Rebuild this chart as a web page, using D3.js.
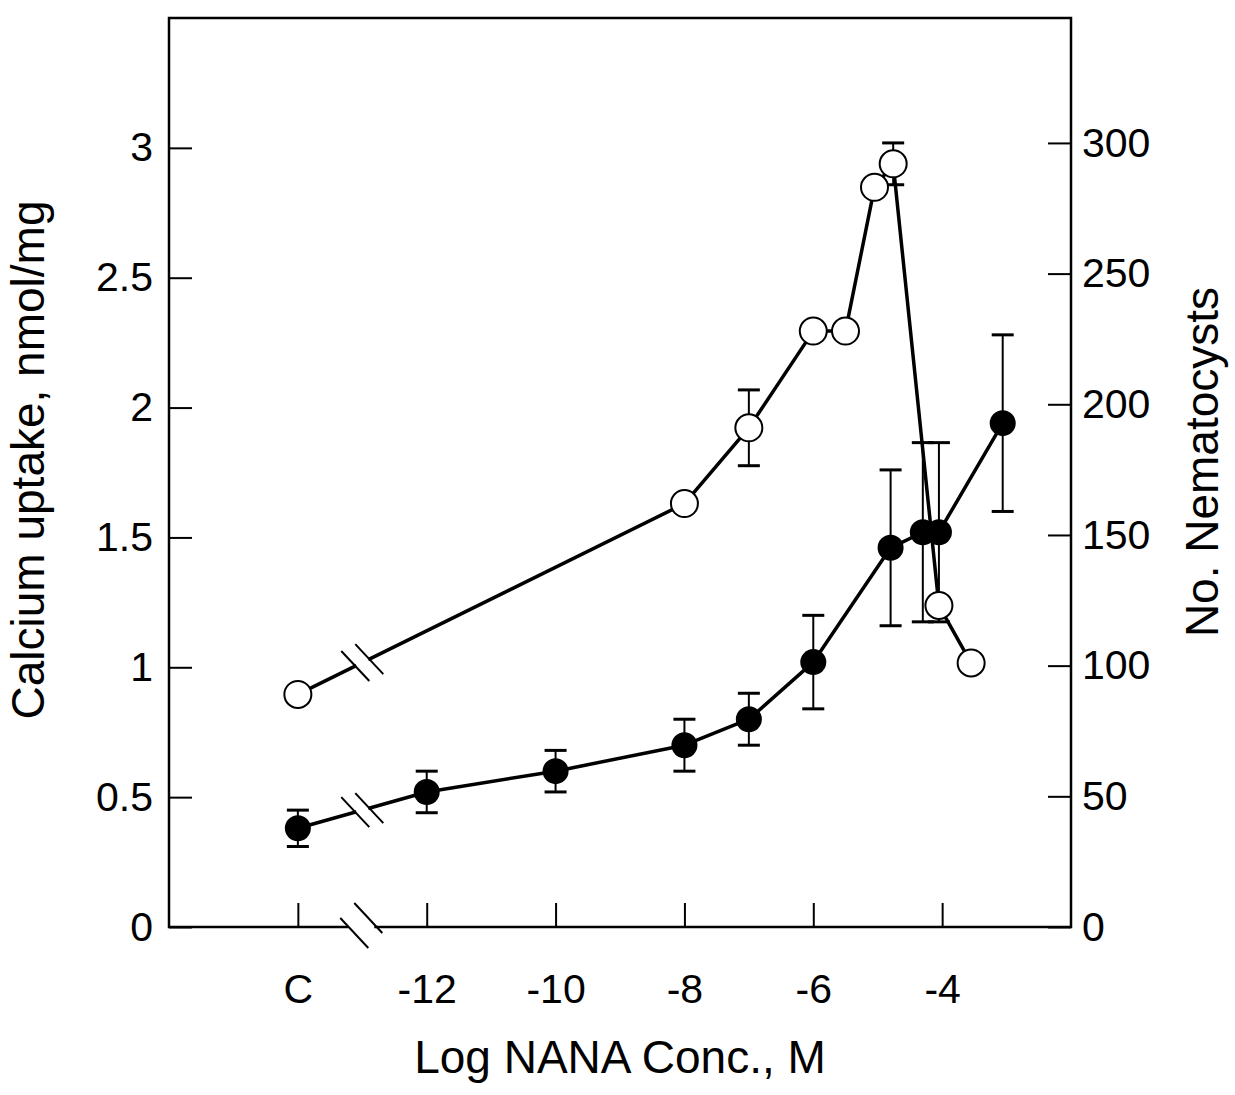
<!DOCTYPE html>
<html>
<head>
<meta charset="utf-8">
<script src="https://cdn.jsdelivr.net/npm/d3@7"></script>
<style>
  html, body { margin: 0; padding: 0; background: #fff; }
  svg { display: block; }
  text { font-family: "Liberation Sans", Arial, Helvetica, sans-serif; fill: #000; }
</style>
</head>
<body>
<svg id="chart" width="1235" height="1095"></svg>
<script>
// ---- data ----
const xTickValues = [-14, -12, -10, -8, -6, -4];
const xTickLabels = ["C", "-12", "-10", "-8", "-6", "-4"];
const leftTicks = [0, 0.5, 1, 1.5, 2, 2.5, 3];
const leftTickLabels = ["0", "0.5", "1", "1.5", "2", "2.5", "3"];
const rightTicks = [0, 50, 100, 150, 200, 250, 300];
const rightTickLabels = ["0", "50", "100", "150", "200", "250", "300"];
const breakAt = -13;

// Calcium uptake (filled circles, left axis)
const calciumX = [-14, -12, -10, -8, -7, -6, -4.8, -4.3, -4.05, -3.06];
const calciumY = [0.38, 0.52, 0.60, 0.70, 0.80, 1.02, 1.46, 1.52, 1.52, 1.94];
const calciumErr = [0.07, 0.08, 0.08, 0.10, 0.10, 0.18, 0.30, 0.345, 0.345, 0.34];

// Nematocysts (open circles, right axis)
const nemX = [-14, -8, -7, -6, -5.5, -5.05, -4.76, -4.05, -3.55];
const nemY = [89, 162, 191, 228, 228, 283, 292, 123, 101];
const nemErr = [0, 0, 14.5, 0, 0, 0, 8, 0, 0];

// ---- layout ----
const L = 169, R = 1071, T = 18, B = 927;
const svg = d3.select("#chart");

const x = d3.scaleLinear().domain([-16, -2]).range([L, R]);
const yL = d3.scaleLinear().domain([0, 3.5]).range([B, T]);
const yR = d3.scaleLinear().domain([0, 347.8]).range([B, T]);

const calcium = calciumX.map((v, i) => ({x: v, y: calciumY[i], e: calciumErr[i]}));
const nem = nemX.map((v, i) => ({x: v, y: nemY[i], e: nemErr[i]}));

// ---- frame ----
const frame = svg.append("g").attr("stroke", "#000").attr("stroke-width", 2.5).attr("fill", "none");
const xb = x(breakAt);
frame.append("path").attr("d", `M${xb - 14},${B} H${L} V${T} H${R} V${B} H${xb + 12}`);

// axis break marks
const mark = (g, cx, cy) => g.append("line")
  .attr("x1", cx - 14).attr("y1", cy - 15).attr("x2", cx + 14).attr("y2", cy + 15)
  .attr("stroke", "#000").attr("stroke-width", 2);
mark(svg, xb - 8, B + 6);
mark(svg, xb + 6, B - 9);

// ---- axes (ticks inward) ----
const leftAxis = d3.axisLeft(yL).tickValues(leftTicks).tickSize(-23)
  .tickFormat((d, i) => leftTickLabels[i]).tickPadding(16);
const gL = svg.append("g").attr("transform", `translate(${L},0)`).call(leftAxis);
const rightAxis = d3.axisRight(yR).tickValues(rightTicks).tickSize(-23)
  .tickFormat((d, i) => rightTickLabels[i]).tickPadding(11);
const gR = svg.append("g").attr("transform", `translate(${R},0)`).call(rightAxis);
const bottomAxis = d3.axisBottom(x).tickValues(xTickValues).tickSize(-24)
  .tickFormat((d, i) => xTickLabels[i]).tickPadding(64);
const gB = svg.append("g").attr("transform", `translate(0,${B})`).call(bottomAxis);

[gL, gR, gB].forEach(g => {
  g.select(".domain").remove();
  g.selectAll(".tick line").attr("stroke", "#000").attr("stroke-width", 2);
  g.selectAll(".tick text").style("font-size", "41px").attr("fill", "#000")
    .style("font-family", '"Liberation Sans", Arial, sans-serif');
});
gB.selectAll(".tick text").attr("dy", "0.3em");

// ---- axis titles ----
svg.append("text").attr("x", 620).attr("y", 1073).attr("text-anchor", "middle")
  .style("font-size", "46px").text("Log NANA Conc., M");
svg.append("text").attr("transform", "translate(1218,462) rotate(-90)")
  .attr("text-anchor", "middle").style("font-size", "46px").text("No. Nematocysts");
svg.append("text").attr("transform", "translate(44,460) rotate(-90)")
  .attr("text-anchor", "middle").style("font-size", "46px").text("Calcium uptake, nmol/mg");

// ---- error bars ----
function errorBars(data, ys) {
  const g = svg.append("g").attr("stroke", "#000").attr("stroke-width", 2);
  data.filter(d => d.e > 0).forEach(d => {
    const cx = x(d.x);
    g.append("line").attr("x1", cx).attr("x2", cx).attr("y1", ys(d.y - d.e)).attr("y2", ys(d.y + d.e));
    [d.y - d.e, d.y + d.e].forEach(v => {
      g.append("line").attr("x1", cx - 11).attr("x2", cx + 11).attr("y1", ys(v)).attr("y2", ys(v))
        .attr("stroke-width", 3);
    });
  });
}
errorBars(calcium, yL);
errorBars(nem, yR);

// ---- lines ----
function series(data, ys) {
  const line = d3.line().x(d => x(d.x)).y(d => ys(d.y));
  svg.append("path").datum(data).attr("d", line)
    .attr("fill", "none").attr("stroke", "#000").attr("stroke-width", 3.5).attr("stroke-linejoin", "round");
  // break in the first segment
  const p0 = [x(data[0].x), ys(data[0].y)], p1 = [x(data[1].x), ys(data[1].y)];
  const yAt = px => p0[1] + (p1[1] - p0[1]) * (px - p0[0]) / (p1[0] - p0[0]);
  svg.append("line").attr("x1", xb - 6).attr("y1", yAt(xb - 6)).attr("x2", xb + 6).attr("y2", yAt(xb + 6))
    .attr("stroke", "#fff").attr("stroke-width", 8);
  mark(svg, xb - 7, yAt(xb - 7));
  mark(svg, xb + 7, yAt(xb + 7));
}
series(nem, yR);
series(calcium, yL);

// ---- markers ----
svg.append("g").selectAll("circle").data(nem).join("circle")
  .attr("cx", d => x(d.x)).attr("cy", d => yR(d.y)).attr("r", 13.5)
  .attr("fill", "#fff").attr("stroke", "#000").attr("stroke-width", 2);
svg.append("g").selectAll("circle").data(calcium).join("circle")
  .attr("cx", d => x(d.x)).attr("cy", d => yL(d.y)).attr("r", 13)
  .attr("fill", "#000");
</script>
</body>
</html>
